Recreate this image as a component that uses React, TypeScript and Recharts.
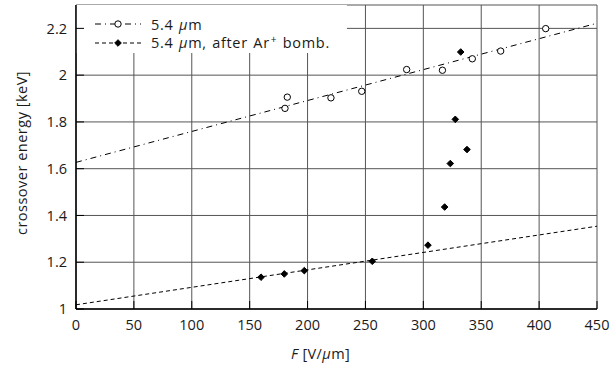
import React from 'react';
import {
  ComposedChart,
  XAxis,
  YAxis,
  CartesianGrid,
  Scatter,
  Line,
  ReferenceArea,
} from 'recharts';

// ---- data ----
const plainF = [182.5, 180.5, 220.2, 246.8, 285.6, 316.5, 342.3, 366.8, 405.7];
const plainE = [1.906, 1.858, 1.903, 1.931, 2.024, 2.021, 2.07, 2.103, 2.199];
const bombF = [159.8, 179.9, 197.2, 255.9, 304.0, 318.4, 323.3, 327.6, 332.3, 337.7];
const bombE = [1.136, 1.15, 1.164, 1.204, 1.273, 1.436, 1.622, 1.811, 2.099, 1.682];
const fitPlainF = [0, 450];
const fitPlainE = [1.627, 2.222];
const fitBombF = [0, 450];
const fitBombE = [1.018, 1.354];
const xTicks = [0, 50, 100, 150, 200, 250, 300, 350, 400, 450];
const yTicks = [1, 1.2, 1.4, 1.6, 1.8, 2, 2.2];
const xDomain = [0, 450];
const yDomain = [1, 2.3];
const legendBoxF = [0, 234];
const legendBoxE = [2.095, 2.3];

const toPts = (xs: number[], ys: number[]) => xs.map((F, i) => ({ F, E: ys[i] }));
const plainData = toPts(plainF, plainE);
const bombData = toPts(bombF, bombE);
const fitPlainData = toPts(fitPlainF, fitPlainE);
const fitBombData = toPts(fitBombF, fitBombE);

const FONT = '"Open Sans", sans-serif';
const FS = 14.5;
const TXT = '#1a1a1a';
const DASHDOT = '6 4 1 4';
const DASHED = '4 3';

const Circle = (p: any) => (
  <circle cx={p.cx} cy={p.cy} r={3.2} fill="#fff" stroke="#000" strokeWidth={1} />
);
const Diamond = (p: any) => {
  const s = 3.3;
  return (
    <polygon
      points={`${p.cx},${p.cy - s} ${p.cx + s},${p.cy} ${p.cx},${p.cy + s} ${p.cx - s},${p.cy}`}
      fill="#000"
      stroke="#000"
      strokeWidth={1}
      strokeLinejoin="round"
    />
  );
};

const Mu = () => <span style={{ fontStyle: 'italic' }}>μ</span>;

const LegendBox = () => {
  const row = (dash: string, marker: React.ReactNode, label: React.ReactNode) => (
    <div style={{ display: 'flex', alignItems: 'center', height: 19 }}>
      <svg width={46} height={12} style={{ display: 'block' }}>
        <line x1={0} y1={6} x2={46} y2={6} stroke="#000" strokeWidth={1} strokeDasharray={dash} />
        {marker}
      </svg>
      <span
        style={{
          marginLeft: 10,
          fontFamily: FONT,
          fontSize: FS,
          color: TXT,
          whiteSpace: 'nowrap',
          lineHeight: '19px',
          letterSpacing: 0.7,
          wordSpacing: 1,
        }}
      >
        {label}
      </span>
    </div>
  );
  return (
    <div style={{ position: 'absolute', left: 95, top: 14.5 }}>
      {row(DASHDOT, <circle cx={23} cy={6} r={3.2} fill="#fff" stroke="#000" />, <>5.4 <Mu />m</>)}
      {row(
        DASHED,
        <polygon points="23,2.7 26.3,6 23,9.3 19.7,6" fill="#000" stroke="#000" />,
        <>
          5.4 <Mu />m, after Ar
          <span style={{ fontSize: 10, position: 'relative', top: -5, marginLeft: 1 }}>+</span> bomb.
        </>
      )}
    </div>
  );
};

const YLabel = (props: any) => {
  const vb = props.viewBox || {};
  const cx = vb.x + 21;
  const cy = vb.y + vb.height / 2 - 4;
  return (
    <text
      x={cx}
      y={cy}
      transform={`rotate(-90, ${cx}, ${cy})`}
      textAnchor="middle"
      dominantBaseline="central"
      fontFamily={FONT}
      fontSize={FS}
      fill={TXT}
      letterSpacing={0.5}
    >
      crossover energy [keV]
    </text>
  );
};

const XLabel = (props: any) => {
  const vb = props.viewBox || {};
  const cx = vb.x + vb.width / 2 - 16;
  const cy = vb.y + 50;
  return (
    <text x={cx} y={cy} textAnchor="middle" fontFamily={FONT} fontSize={FS} fill={TXT} letterSpacing={0.4}>
      <tspan fontStyle="italic">F</tspan> [V/<tspan fontStyle="italic">μ</tspan>m]
    </text>
  );
};

const fmtY = (v: number) => String(Math.round(v * 10) / 10);

export default function App() {
  const tickStyle = { fontFamily: FONT, fontSize: FS, fill: TXT };
  return (
    <div style={{ position: 'absolute', left: 0, top: 0, width: 615, height: 370, background: '#fff' }}>
      <ComposedChart
        width={615}
        height={370}
        margin={{ top: 5, right: 18, bottom: 0, left: 0 }}
      >
        <CartesianGrid stroke="#555" strokeWidth={1} />
        <ReferenceArea
          x1={legendBoxF[0]}
          x2={legendBoxF[1]}
          y1={legendBoxE[0]}
          y2={legendBoxE[1]}
          fill="#fff"
          fillOpacity={1}
          stroke="none"
          ifOverflow="visible"
        />
        <XAxis
          dataKey="F"
          type="number"
          domain={xDomain}
          ticks={xTicks}
          height={61}
          tickSize={-8}
          tickMargin={19}
          tick={tickStyle}
          stroke="#000"
          tickLine={{ stroke: '#000' }}
          axisLine={{ stroke: '#000', strokeWidth: 1.5 }}
          allowDataOverflow
          interval={0}
          label={<XLabel />}
        />
        <XAxis
          xAxisId="top"
          orientation="top"
          dataKey="F"
          type="number"
          domain={xDomain}
          ticks={xTicks}
          height={0}
          tickSize={-8}
          tickFormatter={() => ''}
          stroke="#000"
          axisLine={{ stroke: '#000', strokeWidth: 1.5 }}
          interval={0}
        />
        <YAxis
          dataKey="E"
          type="number"
          domain={yDomain}
          ticks={yTicks}
          width={76}
          tickSize={-8}
          tickMargin={17}
          tick={tickStyle}
          tickFormatter={fmtY}
          stroke="#000"
          axisLine={{ stroke: '#000', strokeWidth: 1.5 }}
          allowDataOverflow
          interval={0}
          label={<YLabel />}
        />
        <YAxis
          yAxisId="right"
          orientation="right"
          dataKey="E"
          type="number"
          domain={yDomain}
          ticks={yTicks}
          width={0}
          tickSize={-8}
          tickFormatter={() => ''}
          stroke="#000"
          axisLine={{ stroke: '#000', strokeWidth: 1.5 }}
          interval={0}
        />
        <Line
          data={fitPlainData}
          dataKey="E"
          type="linear"
          stroke="#000"
          strokeWidth={1}
          strokeDasharray={DASHDOT}
          dot={false}
          activeDot={false}
          isAnimationActive={false}
        />
        <Line
          data={fitBombData}
          dataKey="E"
          type="linear"
          stroke="#000"
          strokeWidth={1}
          strokeDasharray={DASHED}
          dot={false}
          activeDot={false}
          isAnimationActive={false}
        />
        <Scatter data={plainData} dataKey="E" shape={Circle} isAnimationActive={false} />
        <Scatter data={bombData} dataKey="E" shape={Diamond} isAnimationActive={false} />
      </ComposedChart>
      <LegendBox />
    </div>
  );
}
